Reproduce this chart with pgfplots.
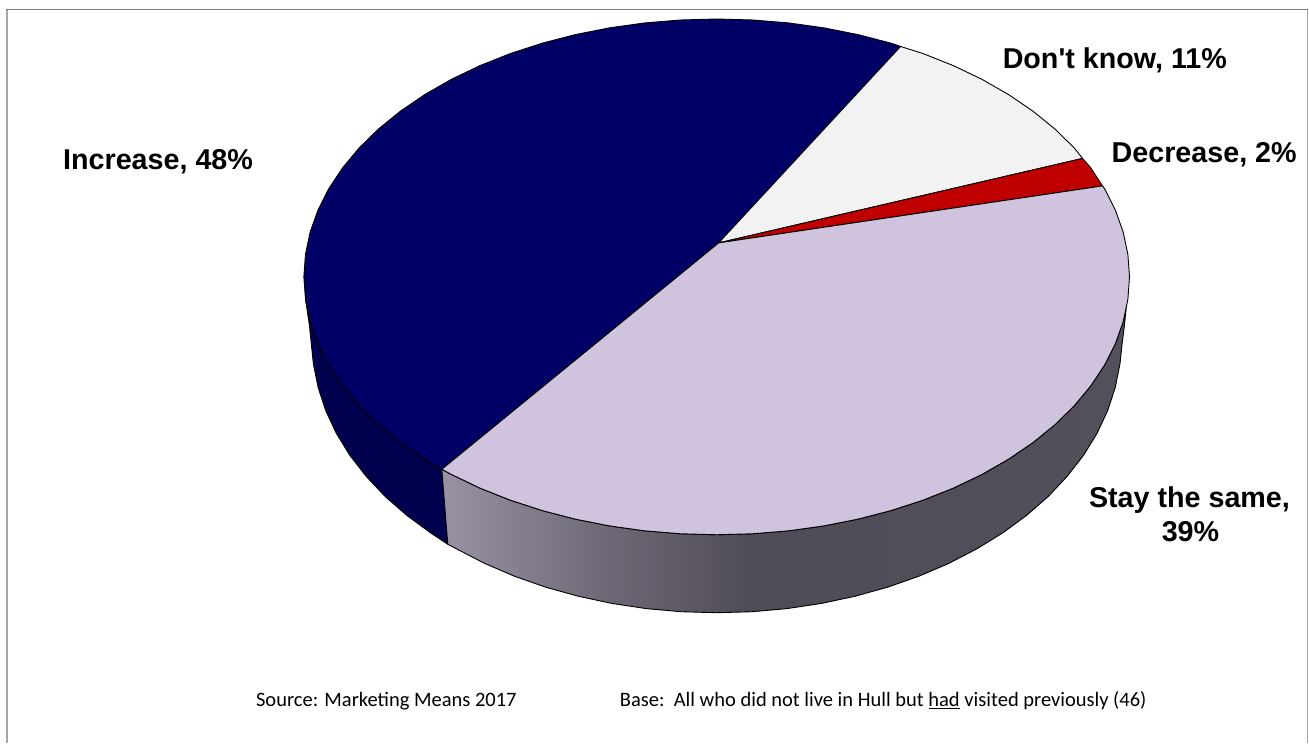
\documentclass[border=0pt]{standalone}
\usepackage{pgfplots}
\usepackage{fontspec}
\pgfplotsset{compat=1.18}
\newfontfamily\labelfont{Liberation Sans}
\newfontfamily\notefont{Carlito}
\definecolor{navytop}{HTML}{000066}
\definecolor{navyside}{HTML}{00004F}
\definecolor{lilac}{HTML}{CFC3DD}
\definecolor{pale}{HTML}{F2F2F2}
\definecolor{brick}{HTML}{C00000}
\definecolor{framegray}{HTML}{A6A6A6}
\definecolor{frametop}{HTML}{808080}
\definecolor{wallA}{HTML}{9A92A4}
\definecolor{wallB}{HTML}{706A78}
\definecolor{wallC}{HTML}{504C56}
\definecolor{wallD}{HTML}{52505B}
% Side wall of the largest slice fades from light to dark, left to right
\pgfdeclarehorizontalshading{wallshade}{100bp}{
  color(0bp)=(wallA);
  color(25bp)=(wallA);
  color(36.5bp)=(wallB);
  color(47.5bp)=(wallC);
  color(75bp)=(wallD);
  color(100bp)=(wallD)}
\newcommand{\lbl}{\labelfont\fontsize{28.7}{33}\selectfont\bfseries}
\newcommand{\note}{\notefont\fontsize{20.5}{24}\selectfont}
\begin{document}
\begin{tikzpicture}
\begin{axis}[
  width=1309pt, height=743pt, scale only axis,
  xmin=0, xmax=1309, ymin=0, ymax=743,
  y dir=reverse, hide axis, clip=false,
  every axis plot/.append style={line join=round}]
% keeps the page as large as the whole canvas
\path (axis cs:0,0) rectangle (axis cs:1309,743);
% frame
\addplot[framegray, line width=1.8pt] coordinates {(7,743) (7,10)};
\addplot[framegray, line width=1.8pt] coordinates {(1308,10) (1308,743)};
\addplot[frametop, line width=1.2pt] coordinates {(6,9.5) (1309,9.5)};
% outer wall, Increase
\addplot[fill=navyside, draw=black, line width=0.9pt] coordinates {
 (305.6,299.5) (310.3,321.8) (318.1,343.8) (328.9,365.2) (342.7,386) (359.3,406) (378.7,425) (400.6,442.8) (425,459.4) (442,469.5)
 (448,544.5) (430.6,533) (406.8,515.5) (385.2,496.6) (366.3,476.5) (349.9,455.4) (336.4,433.4) (325.8,410.7) (318.2,387.4) (313.5,363.8) (309.5,325) (306.5,305)
} --cycle;
% outer wall, Stay the same
\addplot[shading=wallshade, draw=black, line width=0.9pt] coordinates {
 (442,469.5) (451.5,474.6) (480.1,488.3) (510.5,500.4) (542.5,510.8) (575.7,519.4) (610.1,526.2) (645.3,531.1) (681,534) (717,535)
 (753,534) (788.7,531.1) (823.9,526.2) (858.3,519.4) (891.5,510.8) (923.5,500.4) (953.9,488.3) (982.5,474.6) (1009,459.4) (1033.4,442.8)
 (1055.3,425) (1074.7,406) (1091.3,386) (1105.1,365.2) (1115.9,343.8) (1123.7,321.8) (1127,305)
 (1125,325) (1122.5,345) (1120.5,363.8) (1115.8,387.4) (1108.2,410.7) (1097.6,433.4) (1084.1,455.4) (1067.7,476.5) (1048.8,496.6) (1027.2,515.5)
 (1003.4,533) (977.3,549.1) (949.3,563.6) (919.5,576.4) (888.2,587.4) (855.5,596.5) (821.8,603.7) (787.3,608.9) (752.3,612) (717,613)
 (681.7,612) (646.7,608.9) (612.2,603.7) (578.5,596.5) (545.8,587.4) (514.5,576.4) (484.7,563.6) (456.7,549.1) (448,544.5)
} --cycle;
% top face: Increase, 48%
\addplot[fill=navytop, draw=black, line width=0.9pt] coordinates {
 (719,243) (442,469.5) (425,459.4) (400.6,442.8) (378.7,425) (359.3,406) (342.7,386) (328.9,365.2) (318.1,343.8) (310.3,321.8) (305.6,299.5) (304,277)
 (305.6,254.5) (310.3,232.2) (318.1,210.2) (328.9,188.8) (342.7,168) (359.3,148) (378.7,129) (400.6,111.2) (425,94.6) (451.5,79.4) (480.1,65.7) (510.5,53.6)
 (542.5,43.2) (575.7,34.6) (610.1,27.8) (645.3,22.9) (681,20) (717,19) (753,20) (788.7,22.9) (823.9,27.8) (858.3,34.6) (891.5,43.2) (901,46.5)
} --cycle;
% top face: Don't know, 11%
\addplot[fill=pale, draw=black, line width=0.9pt] coordinates {
 (719,243) (901,46.5) (923.5,53.6) (953.9,65.7) (982.5,79.4) (1009,94.6) (1033.4,111.2) (1055.3,129) (1074.7,148) (1083,158.5)
} --cycle;
% top face: Decrease, 2%
\addplot[fill=brick, draw=black, line width=0.9pt] coordinates {
 (719,243) (1083,158.5) (1091.3,168) (1103,186)
} --cycle;
% top face: Stay the same, 39%
\addplot[fill=lilac, draw=black, line width=0.9pt] coordinates {
 (719,243) (1103,186) (1105.1,188.8) (1115.9,210.2) (1123.7,232.2) (1128.4,254.5) (1130,277) (1128.4,299.5) (1123.7,321.8) (1115.9,343.8) (1105.1,365.2) (1091.3,386)
 (1074.7,406) (1055.3,425) (1033.4,442.8) (1009,459.4) (982.5,474.6) (953.9,488.3) (923.5,500.4) (891.5,510.8) (858.3,519.4) (823.9,526.2) (788.7,531.1)
 (753,534) (717,535) (681,534) (645.3,531.1) (610.1,526.2) (575.7,519.4) (542.5,510.8) (510.5,500.4) (480.1,488.3) (451.5,474.6) (442,469.5)
} --cycle;
% slice labels
\node[anchor=base west, inner sep=0pt] at (axis cs:63,170) {\lbl Increase, 48\%};
\node[anchor=base west, inner sep=0pt] at (axis cs:1003,69) {\lbl Don't know, 11\%};
\node[anchor=base west, inner sep=0pt] at (axis cs:1112,163) {\lbl Decrease, 2\%};
\node[anchor=base, inner sep=0pt] at (axis cs:1190,508) {\lbl Stay the same,};
\node[anchor=base, inner sep=0pt] at (axis cs:1191,542) {\lbl 39\%};
% source and base notes
\node[anchor=base west, inner sep=0pt] at (axis cs:256,707) {\note Source: Marketing Means 2017};
\node[anchor=base west, inner sep=0pt] at (axis cs:620,707) {\note Base:\ \ All who did not live in Hull but \underline{had} visited previously (46)};
\end{axis}
\end{tikzpicture}
\end{document}
